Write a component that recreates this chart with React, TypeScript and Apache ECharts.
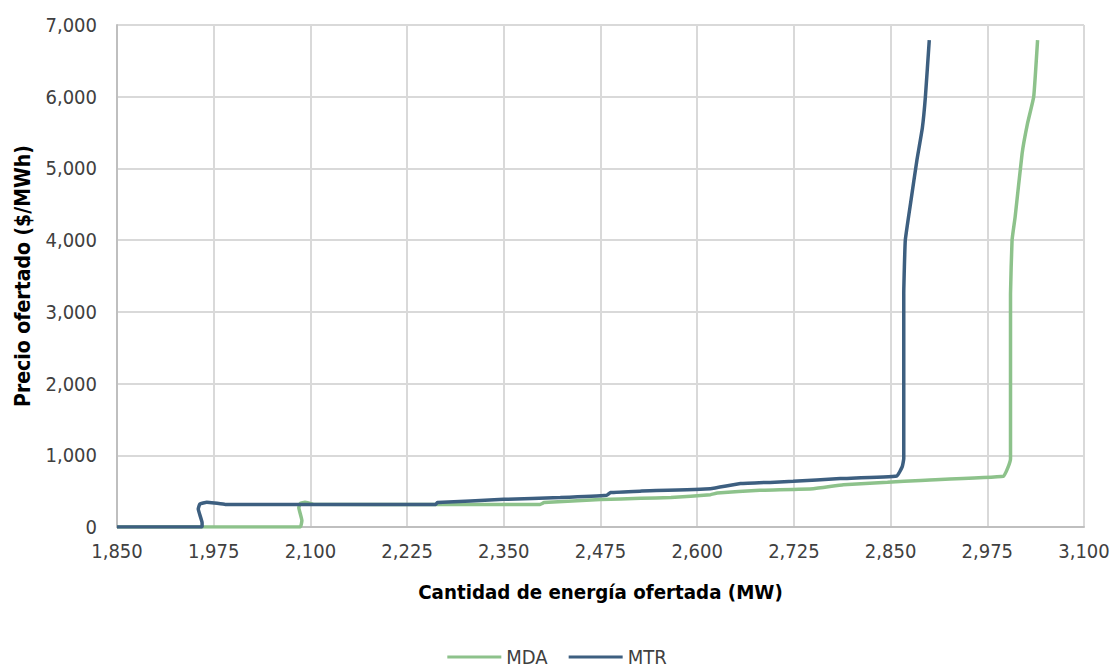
import React, { useEffect, useRef } from "react";
import * as echarts from "echarts";

// Tick settings
const xMin = 1850;
const xMax = 3100;
const xStep = 125;
const yMin = 0;
const yMax = 7000;
const yStep = 1000;

// MDA offer curve (MW, $/MWh)
const mdaMW = [1850, 2087, 2089, 2085, 2087, 2093, 2104, 2262, 2397, 2402, 2475, 2527, 2566, 2617, 2626, 2681, 2750, 2789, 2846, 2889, 2996, 3002, 3005, 3005, 3007, 3011, 3020, 3027, 3035, 3040];
const mdaPrice = [0, 0, 90, 270, 330, 345, 317, 315, 315, 340, 382, 400, 410, 451, 474, 512, 535, 590, 623, 650, 707, 837, 950, 3250, 4000, 4325, 5208, 5627, 6000, 6790];

// MTR offer curve (MW, $/MWh)
const mtrMW = [1850, 1960, 1960, 1955, 1957, 1966, 1976, 1990, 2262, 2264, 2350, 2423, 2483, 2488, 2526, 2617, 2656, 2724, 2785, 2858, 2865, 2867, 2867, 2869, 2876, 2884, 2891, 2895, 2900];
const mtrPrice = [0, 0, 60, 250, 320, 345, 335, 315, 315, 340, 386, 410, 442, 480, 500, 535, 605, 637, 675, 710, 840, 950, 3250, 4000, 4530, 5115, 5560, 6000, 6790];

const seriesNames = ["MDA", "MTR"];
const seriesColors = ["#8dc28b", "#3d5f80"];

const FONT = "'DejaVu Sans Condensed', 'Liberation Sans Narrow', 'Arial Narrow', sans-serif";

const fmt = (v: number) => Math.round(v).toLocaleString("en-US");

export default function App() {
  const ref = useRef<HTMLDivElement>(null);

  useEffect(() => {
    if (!ref.current) return;
    const chart = echarts.init(ref.current, null, { renderer: "svg" });
    const toPairs = (xs: number[], ys: number[]) => xs.map((x, i) => [x - xMin, ys[i]]);
    chart.setOption({
      animation: false,
      backgroundColor: "#ffffff",
      textStyle: { fontFamily: FONT },
      grid: { left: 117, right: 30, top: 25, bottom: 143, containLabel: false },
      legend: {
        data: seriesNames,
        top: 647,
        left: "center",
        padding: 0,
        icon: "rect",
        itemWidth: 54,
        itemHeight: 3,
        itemGap: 21,
        textStyle: { fontFamily: FONT, fontSize: 20, lineHeight: 20, color: "#404040", padding: [0, 0, 0, 0] },
      },
      xAxis: {
        type: "value",
        min: 0,
        max: xMax - xMin,
        interval: xStep,
        name: "Cantidad de energía ofertada (MW)",
        nameLocation: "middle",
        nameGap: 55,
        nameTextStyle: { fontFamily: FONT, fontSize: 20.3, fontWeight: "bold", color: "#000000" },
        axisLine: { show: true, lineStyle: { color: "#bfbfbf", width: 2 } },
        axisTick: { show: false },
        axisLabel: {
          fontFamily: FONT,
          fontSize: 20,
          color: "#404040",
          margin: 14,
          formatter: (v: number) => fmt(v + xMin),
        },
        splitLine: { show: true, lineStyle: { color: "#d9d9d9", width: 2 } },
      },
      yAxis: {
        type: "value",
        min: yMin,
        max: yMax,
        interval: yStep,
        name: "Precio ofertado ($/MWh)",
        nameLocation: "middle",
        nameGap: 84,
        nameTextStyle: { fontFamily: FONT, fontSize: 21, fontWeight: "bold", color: "#000000" },
        axisLine: { show: true, lineStyle: { color: "#bfbfbf", width: 2 } },
        axisTick: { show: false },
        axisLabel: {
          fontFamily: FONT,
          fontSize: 20,
          color: "#404040",
          margin: 20,
          formatter: (v: number) => fmt(v),
        },
        splitLine: { show: true, lineStyle: { color: "#d9d9d9", width: 2 } },
      },
      series: [
        {
          name: seriesNames[0],
          type: "line",
          data: toPairs(mdaMW, mdaPrice),
          showSymbol: false,
          smooth: 0.1,
          lineStyle: { color: seriesColors[0], width: 3.5 },
          itemStyle: { color: seriesColors[0] },
        },
        {
          name: seriesNames[1],
          type: "line",
          data: toPairs(mtrMW, mtrPrice),
          showSymbol: false,
          smooth: 0.1,
          lineStyle: { color: seriesColors[1], width: 3.5 },
          itemStyle: { color: seriesColors[1] },
        },
      ],
    });
    return () => chart.dispose();
  }, []);

  return (
    <div
      ref={ref}
      style={{ position: "fixed", left: 0, top: 0, width: 1114, height: 670, background: "#fff" }}
    />
  );
}
